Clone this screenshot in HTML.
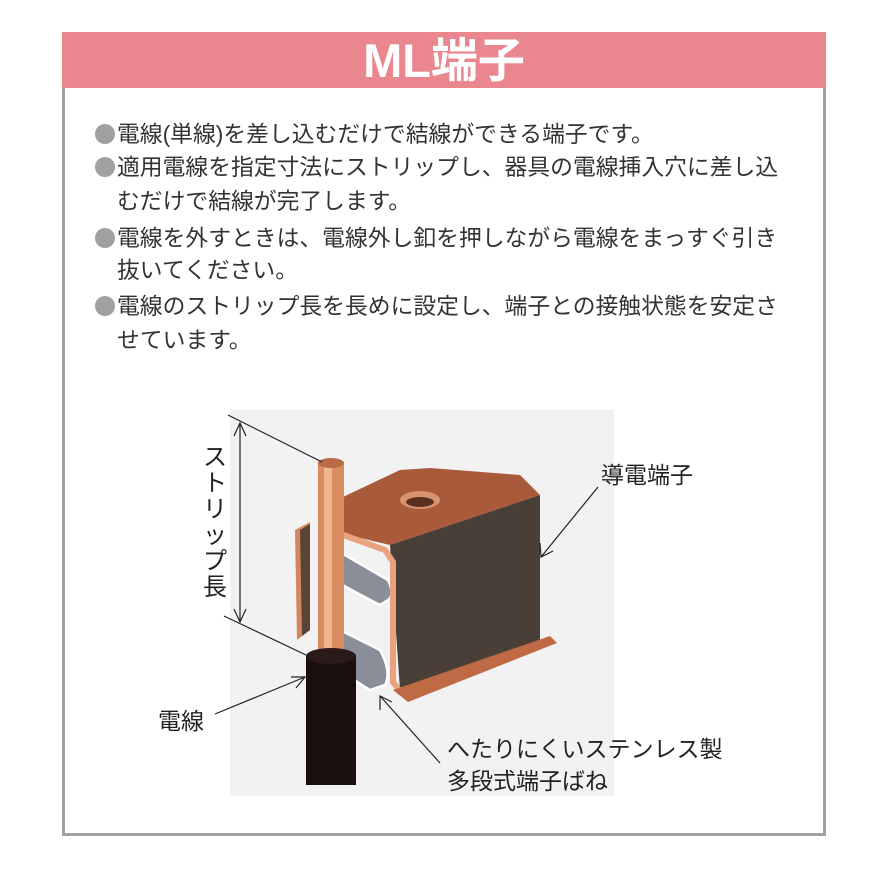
<!DOCTYPE html>
<html><head><meta charset="utf-8"><style>
body{margin:0;width:870px;height:869px;background:#fff;position:relative;overflow:hidden;font-family:"Liberation Sans","Noto Sans CJK JP",sans-serif;}
.box{position:absolute;left:62px;top:88px;width:758px;height:745px;border-left:3px solid #a0a0a0;border-right:3px solid #a0a0a0;border-bottom:3px solid #a0a0a0;}
.hdr{position:absolute;left:62px;top:32px;width:764px;height:56px;background:#e9868e;color:#fff;font-size:47px;font-weight:bold;text-align:center;line-height:58px;}
.l{position:absolute;left:117px;font-size:22.8px;color:#333;white-space:nowrap;line-height:26px;}
.b{position:absolute;left:95px;width:20px;height:20px;border-radius:50%;background:#a0a0a0;}
.t{position:absolute;font-size:23px;color:#222;white-space:nowrap;}
</style></head><body>
<div class="hdr">ML端子</div>
<div class="box"></div>
<div class="b" style="top:124px"></div><div class="l" style="top:121px">電線(単線)を差し込むだけで結線ができる端子です。</div>
<div class="b" style="top:157px"></div><div class="l" style="top:154px">適用電線を指定寸法にストリップし、器具の電線挿入穴に差し込</div>
<div class="l" style="top:188px">むだけで結線が完了します。</div>
<div class="b" style="top:228px"></div><div class="l" style="top:225px">電線を外すときは、電線外し釦を押しながら電線をまっすぐ引き</div>
<div class="l" style="top:257px">抜いてください。</div>
<div class="b" style="top:296px"></div><div class="l" style="top:293px">電線のストリップ長を長めに設定し、端子との接触状態を安定さ</div>
<div class="l" style="top:327px">せています。</div>

<svg style="position:absolute;left:0;top:0" width="870" height="869">
<rect x="230" y="410" width="384" height="386" fill="#f2f2f2"/>
<!-- left flange -->
<polygon points="295,530 310,522 310,630 297,640" fill="#d4875e"/>
<polygon points="300,530 310,524 310,630 302,636" fill="#5a4436"/>
<!-- top face -->
<polygon points="343,497 400,470 430,468 520,475 540,495 390,545 335,532" fill="#a85a3a"/>
<ellipse cx="420" cy="500" rx="20" ry="9" fill="#d8946e"/>
<ellipse cx="420" cy="502" rx="14" ry="5" fill="#5a3020"/>
<!-- dark face -->
<polygon points="390,545 540,495 540,640 400,690" fill="#4a3f36"/>
<!-- springs -->
<path d="M327,565 Q328,552 345,555 L388,580 Q395,595 388,600 L380,605 Q360,595 330,578 Z" fill="#8a8e98" stroke="#fff" stroke-width="2.5"/>
<path d="M330,625 L380,650 Q392,672 385,685 L370,690 Q345,675 330,660 Z" fill="#8a8e98" stroke="#fff" stroke-width="2.5"/>
<!-- front copper edge -->
<polyline points="335,532 385,550 393,562 393,682 402,694" fill="none" stroke="#e9a27e" stroke-width="6"/>
<!-- bottom flange -->
<polygon points="393,690 550,636 557,643 408,702" fill="#c06a45"/>
<!-- wire -->
<rect x="318" y="462" width="26" height="195" fill="#d98b62"/>
<rect x="324" y="462" width="8" height="195" fill="#f0b690"/>
<ellipse cx="331" cy="463" rx="13" ry="5" fill="#b86a45"/>
<rect x="306" y="655" width="50" height="130" fill="#1a0e0e"/>
<ellipse cx="331" cy="656" rx="25" ry="8" fill="#2a1a1a"/>
<!-- dimension lines -->
<g stroke="#222" stroke-width="1.2" fill="none">
<line x1="228" y1="415" x2="322" y2="462"/>
<line x1="224" y1="616" x2="306" y2="655"/>
<line x1="240" y1="423" x2="240" y2="622"/>
<polyline points="234,436 240,423 246,436"/>
<polyline points="234,609 240,622 246,609"/>
<line x1="598" y1="487" x2="541" y2="557"/>
<polyline points="540,543 541,557 553,551"/>
<line x1="215" y1="714" x2="305" y2="677"/>
<polyline points="291,677 305,677 296,688"/>
<line x1="440" y1="763" x2="380" y2="696"/>
<polyline points="380,710 380,696 392,702"/>
</g>
</svg>
<div class="t" style="left:203px;top:445px;width:26px;line-height:26px;white-space:normal;font-size:24px">ストリップ長</div>
<div class="t" style="left:601px;top:456px">導電端子</div>
<div class="t" style="left:158px;top:702px">電線</div>
<div class="t" style="left:447px;top:730px">へたりにくいステンレス製</div>
<div class="t" style="left:447px;top:762px">多段式端子ばね</div>
</body></html>
